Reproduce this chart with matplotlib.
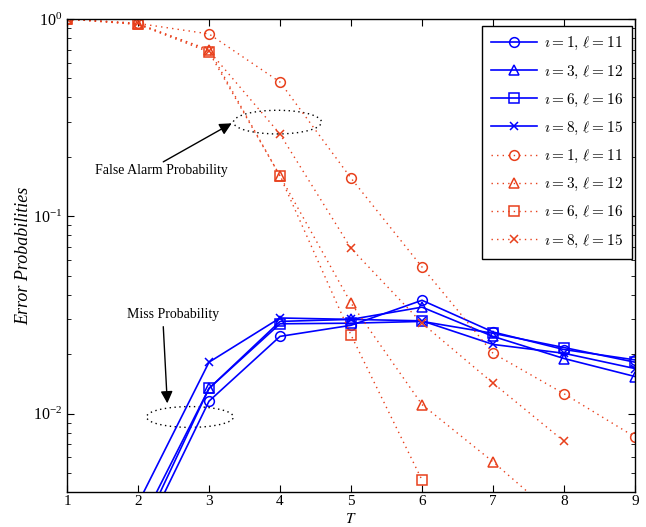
import numpy as np
import matplotlib
matplotlib.use("Agg")
import matplotlib.pyplot as plt
from matplotlib.patches import Ellipse
from matplotlib.ticker import LogLocator, NullFormatter
from matplotlib.font_manager import FontProperties

nan = np.nan
T = [1, 2, 3, 4, 5, 6, 7, 8, 9]
labels = [r"$\imath = 1,\, \ell = 11$", r"$\imath = 3,\, \ell = 12$",
          r"$\imath = 6,\, \ell = 16$", r"$\imath = 8,\, \ell = 15$"]
markers = ["o", "^", "s", "x"]

# Miss probability (blue, solid)
miss_1 = [nan, 0.0021, 0.01155, 0.0246, 0.0280, 0.0375, 0.0259, 0.0211, 0.0187]
miss_3 = [nan, 0.0026, 0.0134, 0.0293, 0.0300, 0.0346, 0.0246, 0.0190, 0.0154]
miss_6 = [nan, 0.0023, 0.0134, 0.0285, 0.0287, 0.0293, 0.0255, 0.0216, 0.0182]
miss_8 = [nan, 0.0035, 0.0182, 0.0305, 0.0300, 0.0295, 0.0224, 0.0202, 0.0169]

# False alarm probability (red, dotted)
fa_1 = [1.0, 0.95, 0.84, 0.479, 0.156, 0.0553, 0.0202, 0.0126, 0.0076]
fa_3 = [1.0, 0.94, 0.70, 0.160, 0.0363, 0.0111, 0.00569, 0.00277, nan]
fa_6 = [1.0, 0.94, 0.68, 0.160, 0.0250, 0.0046, nan, nan, nan]
fa_8 = [1.0, 0.95, 0.69, 0.261, 0.0688, 0.0287, 0.01426, 0.00723, nan]

blue = "#0000FF"
red = "#E8401C"

plt.rcParams["font.family"] = ["Liberation Serif", "DejaVu Serif"]
plt.rcParams["mathtext.fontset"] = "stix"

fig = plt.figure(figsize=(6.46, 5.27), dpi=100)
ax = fig.add_axes([67/646, 1-492/527, 568/646, 473/527])

for y, m, lab in zip([miss_1, miss_3, miss_6, miss_8], markers, labels):
    ax.plot(T, y, color=blue, lw=1.2, marker=m, ms=7 if m != "x" else 6,
            mfc="none", mec=blue, mew=1.1, label=lab)
for y, m, lab in zip([fa_1, fa_3, fa_6, fa_8], markers, labels):
    ax.plot(T, y, color=red, lw=1.0, ls=(0, (1, 3)), marker=m,
            ms=7 if m != "x" else 6, mfc="none", mec=red, mew=1.1, label=lab)

ax.set_yscale("log")
ax.set_xlim(1, 9)
ax.set_ylim(0.004, 1)
ax.set_xticks(T)
ax.yaxis.set_minor_locator(LogLocator(base=10, subs=np.arange(2, 10)))
ax.yaxis.set_minor_formatter(NullFormatter())
ax.tick_params(which="both", direction="in", top=True, right=True, labelsize=11.5)
ax.tick_params(axis="x", pad=2.5, labelsize=11)
ax.tick_params(which="major", length=5)
ax.tick_params(which="minor", length=3)
for s in ax.spines.values():
    s.set_linewidth(1.0)

ax.set_xlabel("$T$", fontsize=11, va="baseline")
ax.xaxis.set_label_coords(0.5, -0.0655)
ax.set_ylabel("Error Probabilities", fontsize=13, style="italic", labelpad=0)

legprop = FontProperties(family="Liberation Serif", size=11, math_fontfamily="cm")
leg = ax.legend(loc="upper right", prop=legprop, handlelength=3.0,
                handletextpad=0.45, labelspacing=0.72, borderpad=0.6,
                borderaxespad=0, fancybox=False, framealpha=1, edgecolor="k",
                bbox_to_anchor=(0.9947, 0.985))
leg.get_frame().set_linewidth(1.0)

# annotations
ax.add_patch(Ellipse((0.3705, 0.782), 0.155, 0.050, transform=ax.transAxes,
                     fill=False, ls=(0, (1, 2.5)), lw=1.0, ec="k"))
ax.add_patch(Ellipse((0.2165, 0.1586), 0.153, 0.044, transform=ax.transAxes,
                     fill=False, ls=(0, (1, 2.5)), lw=1.0, ec="k"))
ax.annotate("", xy=(0.290, 0.7795), xytext=(0.1695, 0.698),
            xycoords="axes fraction", textcoords="axes fraction",
            arrowprops=dict(arrowstyle="-|>", color="k", lw=1.0,
                            mutation_scale=18, shrinkA=0, shrinkB=0))
ax.text(0.167, 0.679, "False Alarm Probability", transform=ax.transAxes,
        ha="center", va="center", fontsize=10)
ax.annotate("", xy=(0.1766, 0.1875), xytext=(0.1695, 0.3495),
            xycoords="axes fraction", textcoords="axes fraction",
            arrowprops=dict(arrowstyle="-|>", color="k", lw=1.0,
                            mutation_scale=18, shrinkA=0, shrinkB=0))
ax.text(0.186, 0.376, "Miss Probability", transform=ax.transAxes,
        ha="center", va="center", fontsize=10)

fig.savefig("out.png", dpi=100)
